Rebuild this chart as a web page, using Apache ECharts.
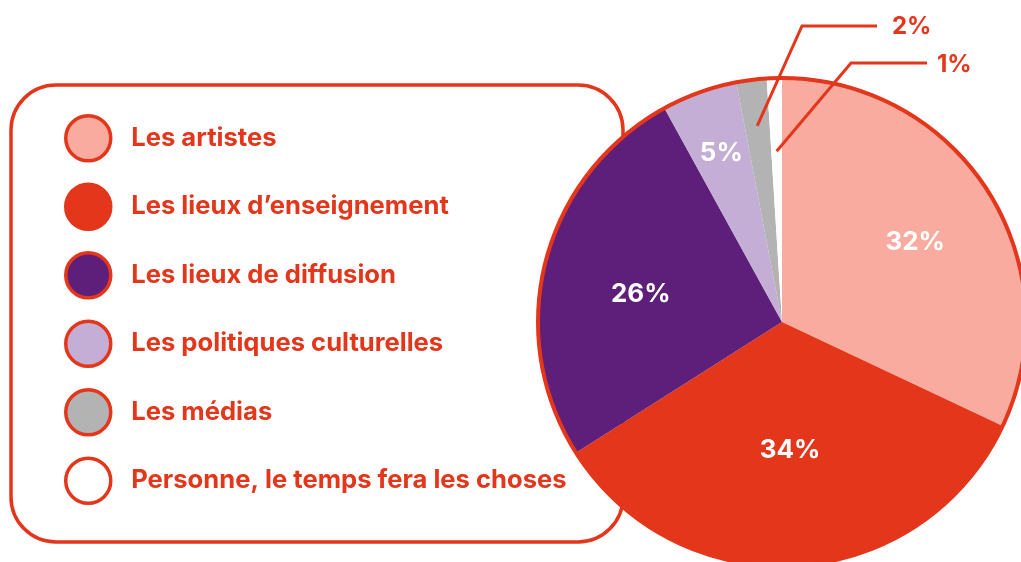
<!DOCTYPE html>
<html><head><meta charset="utf-8">
<script src="https://cdn.jsdelivr.net/npm/echarts@6/dist/echarts.min.js"></script>
<style>html,body{margin:0;padding:0;background:#fff}#c{width:1021px;height:562px}</style>
</head><body><div id="c"></div>
<script>
const categories = ['Les artistes','Les lieux d’enseignement','Les lieux de diffusion','Les politiques culturelles','Les médias','Personne, le temps fera les choses'];
const values = [32, 34, 26, 5, 2, 1];
const colors = ['#F9ABA0', '#E3361A', '#5E1F7A', '#C4AED5', '#B3B3B3', '#FFFFFF'];
const RED = '#E3361A';
const FONT = 'Inter';
const CX = 782, CY = 322, R = 244;

const total = values.reduce((a, b) => a + b, 0);
const mids = []; let acc = 0;
values.forEach(v => { mids.push((acc + v / 2) / total * 2 * Math.PI); acc += v; });
// inside label placement: [fraction of radius, angle tweak in degrees]
const insideLabel = [[0.637, 1.4], [0.526, 0], [0.59, -3.2], [0.734, 0]];
// outside callouts: start fraction of radius, elbow, end of line, text anchor
const callouts = {
  4: { start: 0.81, elbow: [802, 26], end: [877, 26], text: [892, 27] },
  5: { start: 0.70, elbow: [851, 63], end: [927, 63], text: [937, 65] }
};
function polar(a, d) { return [CX + d * R * Math.sin(a), CY - d * R * Math.cos(a)]; }

const data = categories.map((name, i) => ({
  name, value: values[i],
  itemStyle: { color: colors[i] },
  label: callouts[i]
    ? { position: 'outside', color: RED, fontSize: 24 }
    : { position: 'inside', color: '#fff', fontSize: 26 }
}));

const calloutLines = Object.keys(callouts).map(k => {
  const c = callouts[k];
  return {
    type: 'polyline', z: 101, silent: true,
    shape: { points: [polar(mids[k], c.start), c.elbow, c.end] },
    style: { fill: 'none', stroke: RED, lineWidth: 3 }
  };
});

const chart = echarts.init(document.getElementById('c'));
chart.setOption({
  animation: false,
  backgroundColor: '#fff',
  graphic: [
    { type: 'rect', z: 0, shape: { x: 11, y: 85, width: 612, height: 457, r: 45 },
      style: { fill: 'none', stroke: RED, lineWidth: 3.5 } },
    { type: 'circle', z: 100, silent: true, shape: { cx: CX, cy: CY, r: R },
      style: { fill: 'none', stroke: RED, lineWidth: 4 } }
  ].concat(calloutLines),
  legend: {
    orient: 'vertical', left: 59, top: 109,
    itemWidth: 76, itemHeight: 45, itemGap: 20,
    icon: 'circle',
    itemStyle: { borderColor: RED, borderWidth: 3.5 },
    textStyle: { color: RED, fontSize: 25.6, fontWeight: 'bold', fontFamily: FONT },
    selectedMode: false,
    data: categories
  },
  series: [{
    type: 'pie', center: [CX, CY], radius: R, startAngle: 90, clockwise: true,
    silent: true, avoidLabelOverlap: false,
    label: { formatter: '{c}%', fontWeight: 'bold', fontFamily: FONT },
    labelLine: { show: false },
    labelLayout: function (p) {
      const i = p.dataIndex;
      if (callouts[i]) {
        const c = callouts[i];
        return { x: c.text[0], y: c.text[1], align: 'left', verticalAlign: 'middle' };
      }
      const pt = polar(mids[i] + insideLabel[i][1] * Math.PI / 180, insideLabel[i][0]);
      return { x: pt[0], y: pt[1], align: 'center', verticalAlign: 'middle' };
    },
    data
  }]
});
</script></body></html>
